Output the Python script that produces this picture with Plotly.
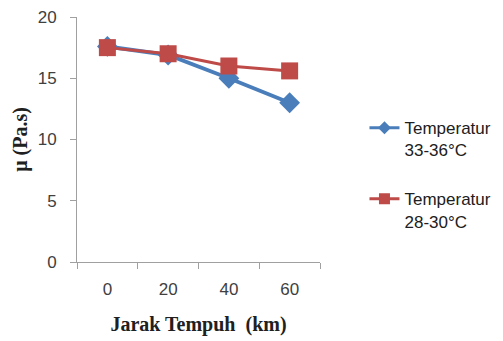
import plotly.graph_objects as go

# Distance travelled (km) and viscosity readings for two temperature ranges
jarak = ["0", "20", "40", "60"]
mu_33_36 = [17.6, 16.9, 15.0, 13.0]
mu_28_30 = [17.5, 17.0, 16.0, 15.6]
nama_seri = ["Temperatur<br>33-36°C", "Temperatur<br>28-30°C"]
warna = ["#4a7ebb", "#be4b48"]

fig = go.Figure()
fig.add_trace(go.Scatter(
    x=jarak, y=mu_33_36, name=nama_seri[0], mode="lines+markers",
    line=dict(color=warna[0], width=4),
    marker=dict(symbol="diamond", size=16, color=warna[0]),
    showlegend=False,
))
fig.add_trace(go.Scatter(
    x=jarak, y=mu_28_30, name=nama_seri[1], mode="lines+markers",
    line=dict(color=warna[1], width=3),
    marker=dict(symbol="square", size=17, color=warna[1]),
    showlegend=False,
))

# Legend entries with smaller key symbols, one group each so the gap applies
fig.add_trace(go.Scatter(
    x=[None], y=[None], name=nama_seri[0], mode="lines+markers",
    line=dict(color=warna[0], width=3),
    marker=dict(symbol="diamond", size=10, color=warna[0]),
    legendgroup="a",
))
fig.add_trace(go.Scatter(
    x=[None], y=[None], name=nama_seri[1], mode="lines+markers",
    line=dict(color=warna[1], width=3),
    marker=dict(symbol="square", size=11, color=warna[1]),
    legendgroup="b",
))

fig.update_layout(
    width=503, height=341,
    margin=dict(l=77, r=183, t=17, b=79, autoexpand=False),
    paper_bgcolor="white", plot_bgcolor="white",
    font=dict(family="Liberation Sans", color="#404040", size=17),
    showlegend=True,
    legend=dict(
        x=1.183, xanchor="left", y=0.62, yanchor="top",
        font=dict(family="Liberation Sans", size=17, color="#202020"),
        valign="top", tracegroupgap=24, itemwidth=30,
        traceorder="grouped",
    ),
    xaxis=dict(
        type="category", range=[-0.5, 3.5],
        showline=True, linecolor="#a0a0a0", linewidth=1,
        ticks="outside", tickson="boundaries", ticklen=6, tickcolor="#a0a0a0",
        showgrid=False, zeroline=False, ticklabelstandoff=12,
        tickfont=dict(size=17, color="#404040"),
        title=dict(text="<b>Jarak Tempuh  (km)</b>",
                   font=dict(family="Liberation Serif", size=20, color="#202020"),
                   standoff=18),
    ),
    yaxis=dict(
        range=[0, 20], tickvals=[0, 5, 10, 15, 20],
        showline=True, linecolor="#a0a0a0", linewidth=1,
        ticks="outside", ticklen=6, tickcolor="#a0a0a0",
        showgrid=False, zeroline=False, ticklabelstandoff=10,
        tickfont=dict(size=17, color="#404040"),
        title=dict(text="<b>μ (Pa.s)</b>",
                   font=dict(family="Liberation Serif", size=20, color="#202020"),
                   standoff=4),
    ),
)

fig.write_html("out.html")
